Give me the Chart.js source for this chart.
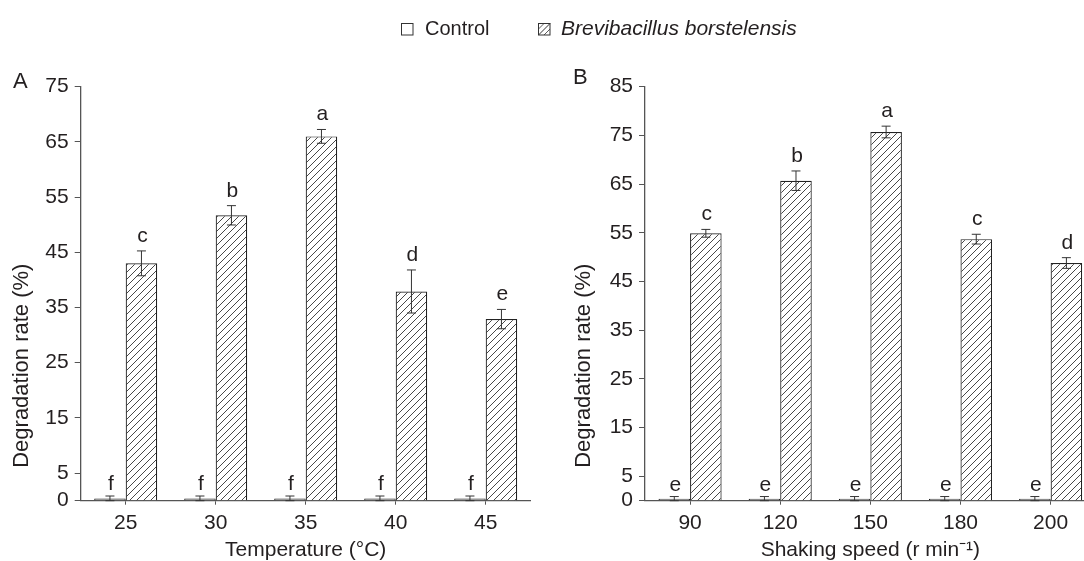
<!DOCTYPE html>
<html><head><meta charset="utf-8">
<script src="https://cdn.jsdelivr.net/npm/chart.js@4.4.0/dist/chart.umd.min.js"></script>
<style>
html,body{margin:0;padding:0;background:#fff;overflow:hidden;width:1084px;height:561px;position:relative;}
#cA{position:absolute;left:0;top:0;}
#cB{position:absolute;left:540px;top:0;}
.leg{position:absolute;font-family:"Liberation Sans",Arial,sans-serif;color:#231f20;white-space:nowrap;}
</style></head><body>
<canvas id="cA" width="540" height="561"></canvas>
<canvas id="cB" width="560" height="561"></canvas>
<svg class="leg" style="left:401px;top:23px" width="13" height="13"><rect x="0.5" y="0.5" width="11.5" height="11.5" fill="#fff" stroke="#333" stroke-width="1"/></svg>
<div class="leg" style="left:425px;top:18px;font-size:20px;line-height:20px">Control</div>
<svg class="leg" style="left:538px;top:23px" width="13" height="13"><rect x="0.5" y="0.5" width="11.5" height="11.5" fill="#fff" stroke="#333" stroke-width="1"/><line x1="0.5" y1="12" x2="12" y2="0.5" stroke="#333" stroke-width="1"/><line x1="0.5" y1="6" x2="6" y2="0.5" stroke="#333" stroke-width="0.8"/><line x1="6" y1="12" x2="12" y2="6" stroke="#333" stroke-width="0.8"/></svg>
<div class="leg" style="left:561px;top:17px;font-size:21px;line-height:21px;font-style:italic">Brevibacillus borstelensis</div>
<script>
// ---- Data ----
const tempLabels = ['25', '30', '35', '40', '45'];
const tempControl = [0.4, 0.4, 0.4, 0.4, 0.4];
const tempControlErr = [0.45, 0.45, 0.45, 0.45, 0.45];
const tempTreat = [43.0, 51.7, 66.0, 37.9, 32.9];
const tempTreatErr = [2.25, 1.75, 1.25, 3.9, 1.75];
const tempControlLetters = ['f', 'f', 'f', 'f', 'f'];
const tempTreatLetters = ['c', 'b', 'a', 'd', 'e'];
const tempYTicks = [0, 5, 15, 25, 35, 45, 55, 65, 75];

const speedLabels = ['90', '120', '150', '180', '200'];
const speedControl = [0.4, 0.4, 0.4, 0.4, 0.4];
const speedControlErr = [0.45, 0.45, 0.45, 0.45, 0.45];
const speedTreat = [54.9, 65.7, 75.7, 53.7, 48.8];
const speedTreatErr = [0.8, 2.0, 1.2, 1.0, 1.1];
const speedControlLetters = ['e', 'e', 'e', 'e', 'e'];
const speedTreatLetters = ['c', 'b', 'a', 'c', 'd'];
const speedYTicks = [0, 5, 15, 25, 35, 45, 55, 65, 75, 85];

const FONT = '"Liberation Sans", Arial, sans-serif';
const TXT = '#231f20';
const AX = '#555';

function makeHatch() {
  const c = document.createElement('canvas');
  c.width = 7; c.height = 7;
  const g = c.getContext('2d');
  g.fillStyle = '#fff'; g.fillRect(0, 0, 7, 7);
  g.strokeStyle = '#333'; g.lineWidth = 0.9;
  g.beginPath();
  g.moveTo(-1, 8); g.lineTo(8, -1);
  g.moveTo(-1, 1); g.lineTo(1, -1);
  g.moveTo(6, 8); g.lineTo(8, 6);
  g.stroke();
  return g.createPattern(c, 'repeat');
}

const errPlugin = {
  id: 'errs',
  afterDatasetsDraw(chart) {
    const ctx = chart.ctx, y = chart.scales.y;
    chart.data.datasets.forEach((ds, di) => {
      const meta = chart.getDatasetMeta(di);
      meta.data.forEach((bar, i) => {
        const v = ds.data[i], e = ds.errors[i];
        const x = bar.x;
        const yt = y.getPixelForValue(v + e), yb = y.getPixelForValue(Math.max(0, v - e));
        ctx.save();
        ctx.strokeStyle = '#333'; ctx.lineWidth = 1;
        ctx.beginPath();
        ctx.moveTo(x, yt); ctx.lineTo(x, yb);
        ctx.moveTo(x - 4.5, yt); ctx.lineTo(x + 4.5, yt);
        ctx.moveTo(x - 4.5, yb); ctx.lineTo(x + 4.5, yb);
        ctx.stroke();
        ctx.fillStyle = TXT; ctx.font = '21px ' + FONT;
        ctx.textAlign = 'center'; ctx.textBaseline = 'alphabetic';
        ctx.fillText(ds.letters[i], x + 1, yt - ds.letterGap);
        ctx.restore();
      });
    });
  },
  afterDraw(chart, args, opts) {
    const ctx = chart.ctx;
    ctx.save();
    ctx.fillStyle = TXT;
    ctx.font = '22px ' + FONT;
    ctx.textAlign = 'left'; ctx.textBaseline = 'alphabetic';
    ctx.fillText(opts.panel, opts.panelX, opts.panelY);
    ctx.translate(opts.titleX, opts.titleY);
    ctx.rotate(-Math.PI / 2);
    ctx.textAlign = 'center'; ctx.textBaseline = 'middle';
    ctx.fillText(opts.yTitle, 0, 0);
    ctx.restore();
  }
};

function build(id, labels, ctrl, ctrlErr, ctrlLet, trt, trtErr, trtLet, yTicks, yMax, xTitle, yWidth, padRight, extra) {
  const hatch = makeHatch();
  return new Chart(document.getElementById(id), {
    type: 'bar',
    data: {
      labels: labels,
      datasets: [
        { label: 'Control', data: ctrl, errors: ctrlErr, letters: ctrlLet, letterGap: 6,
          backgroundColor: '#888', borderColor: '#222', borderWidth: 1.2,
          categoryPercentage: 0.7, barPercentage: 1.0 },
        { label: 'Brevibacillus borstelensis', data: trt, errors: trtErr, letters: trtLet, letterGap: 9,
          backgroundColor: hatch, borderColor: '#222', borderWidth: 1.2,
          categoryPercentage: 0.7, barPercentage: 1.0 }
      ]
    },
    options: {
      responsive: false,
      animation: false,
      layout: { padding: { left: 0, right: padRight, top: 86.7, bottom: 0 } },
      plugins: {
        legend: { display: false },
        tooltip: { enabled: false },
        errs: extra
      },
      scales: {
        x: {
          grid: { display: true, drawOnChartArea: false, drawTicks: true, tickLength: 4, offset: false, color: AX },
          border: { display: true, color: AX, width: 1.3 },
          ticks: { color: TXT, font: { family: FONT, size: 21 }, padding: 6, maxRotation: 0 },
          title: { display: true, text: xTitle, color: TXT, font: { family: FONT, size: 21, lineHeight: 1.0 }, padding: 0 },
          afterFit: (s) => { s.height = 60.3; }
        },
        y: {
          min: 0, max: yMax,
          grid: { display: true, drawOnChartArea: false, drawTicks: true, tickLength: 6, color: AX },
          border: { display: true, color: AX, width: 1.3 },
          ticks: { color: TXT, font: { family: FONT, size: 21 }, padding: 6 },
          afterBuildTicks: (s) => { s.ticks = yTicks.map(v => ({ value: v })); },
          afterFit: (s) => { s.width = yWidth; }
        }
      }
    },
    plugins: [errPlugin]
  });
}

build('cA', tempLabels, tempControl, tempControlErr, tempControlLetters, tempTreat, tempTreatErr, tempTreatLetters,
  tempYTicks, 75, 'Temperature (°C)', 80.7, 9.3,
  { panel: 'A', panelX: 13, panelY: 88, yTitle: 'Degradation rate (%)', titleX: 22, titleY: 365.7 });
build('cB', speedLabels, speedControl, speedControlErr, speedControlLetters, speedTreat, speedTreatErr, speedTreatLetters,
  speedYTicks, 85, 'Shaking speed (r min\u207B\u00B9)', 105, 4.3,
  { panel: 'B', panelX: 33, panelY: 84, yTitle: 'Degradation rate (%)', titleX: 43.5, titleY: 365.7 });
</script>
</body></html>
